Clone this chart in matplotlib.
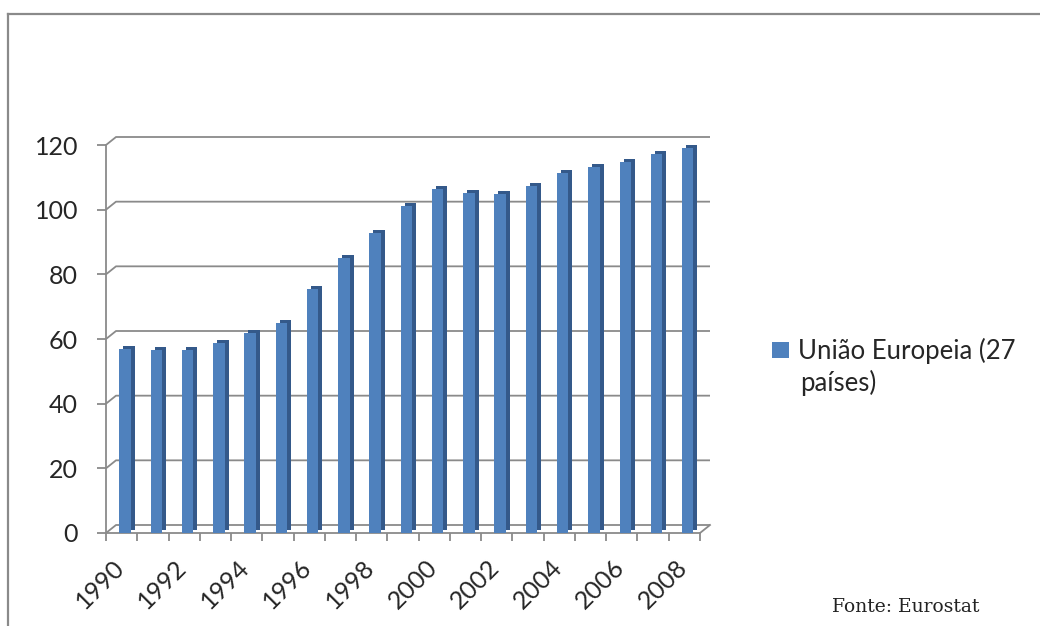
import numpy as np
import matplotlib.pyplot as plt
from matplotlib.transforms import ScaledTranslation
from matplotlib.lines import Line2D

# dados
anos = list(range(1990, 2009))
valores = [57.0, 56.5, 56.5, 58.7, 62.0, 65.0, 75.5, 85.0, 92.7, 101.2,
           106.5, 105.3, 104.8, 107.2, 111.3, 113.3, 114.8, 117.2, 119.2]
rotulos_x = [str(a) if a % 2 == 0 else '' for a in anos]
ticks_y = [0, 20, 40, 60, 80, 100, 120]
serie = 'União Europeia (27'
serie_2 = 'países)'
fonte = 'Fonte: Eurostat'

plt.rcParams['font.family'] = ['Lato', 'DejaVu Sans']

W, H = 1040, 626
fig = plt.figure(figsize=(W / 100, H / 100), dpi=100)
ax = fig.add_axes([106 / W, (H - 533) / H, 594 / W, 388 / H])

x = np.arange(len(anos))
x0, x1 = -0.5, len(anos) - 0.5
ax.set_xlim(x0, x1)
ax.set_ylim(0, 120)

cinza = '#8a8a8a'

# profundidade "3D" ao estilo Excel
px_cat = 594 / len(anos)
px_un = 388 / 120
dx = 10 / px_cat
dy = 8 / px_un
for t in ticks_y:
    ax.plot([x0, x0 + dx, x1 + dx], [t, t + dy, t + dy], color=cinza, lw=1.3,
            clip_on=False, zorder=1, solid_capstyle='butt')
ax.plot([x1, x1 + dx], [0, dy], color=cinza, lw=1.3, clip_on=False, zorder=1)

# barras: face lateral/topo deslocada + face frontal
desl = 3.4 / px_cat
larg = 11.4 / px_cat
lado = ScaledTranslation(4 / 100, 3 / 100, fig.dpi_scale_trans)
ax.bar(x + desl, valores, width=larg, color='#34598a',
       transform=ax.transData + lado, zorder=2)
barras = ax.bar(x + desl, valores, width=larg, color='#4f81bd', zorder=3)

for s in ['top', 'right']:
    ax.spines[s].set_visible(False)
for s in ['left', 'bottom']:
    ax.spines[s].set_color(cinza)
    ax.spines[s].set_linewidth(1.3)

ax.set_yticks(ticks_y)
ax.tick_params(axis='y', length=6.5, width=1.3, color=cinza, pad=13.5,
               labelsize=18, labelcolor='#262626')

ax.set_xticks(x)
ax.set_xticklabels(rotulos_x, rotation=45, ha='right')
ax.tick_params(axis='x', which='major', length=0, pad=16, labelsize=18,
               labelcolor='#262626')
ax.set_xticks(np.arange(x0, x1 + 0.1, 1), minor=True)
ax.tick_params(axis='x', which='minor', length=5.8, width=1.3, color=cinza)
for lbl in ax.get_xticklabels():
    lbl.set_transform(lbl.get_transform() + ScaledTranslation(0.07, 0, fig.dpi_scale_trans))

# legenda
fig.legend([barras], [serie], loc='upper left', bbox_to_anchor=(772 / W, 1 - 338 / H),
           frameon=False, fontsize=18.5, handlelength=0.65, handleheight=0.6,
           handletextpad=0.35, borderpad=0, borderaxespad=0, labelcolor='#262626')
fig.text(800 / W, 1 - 391 / H, serie_2, fontsize=18.5, color='#262626', va='baseline')

fig.text(832 / W, 1 - 612 / H, fonte, family='DejaVu Serif', fontsize=13.5,
         color='#222222', va='baseline')

# moldura
fig.add_artist(Line2D([8 / W, 8 / W], [0, 1 - 14 / H], transform=fig.transFigure,
                      color=cinza, lw=1.6))
fig.add_artist(Line2D([8 / W, 1], [1 - 14 / H, 1 - 14 / H], transform=fig.transFigure,
                      color=cinza, lw=1.6))

fig.savefig('out.png', dpi=100)
